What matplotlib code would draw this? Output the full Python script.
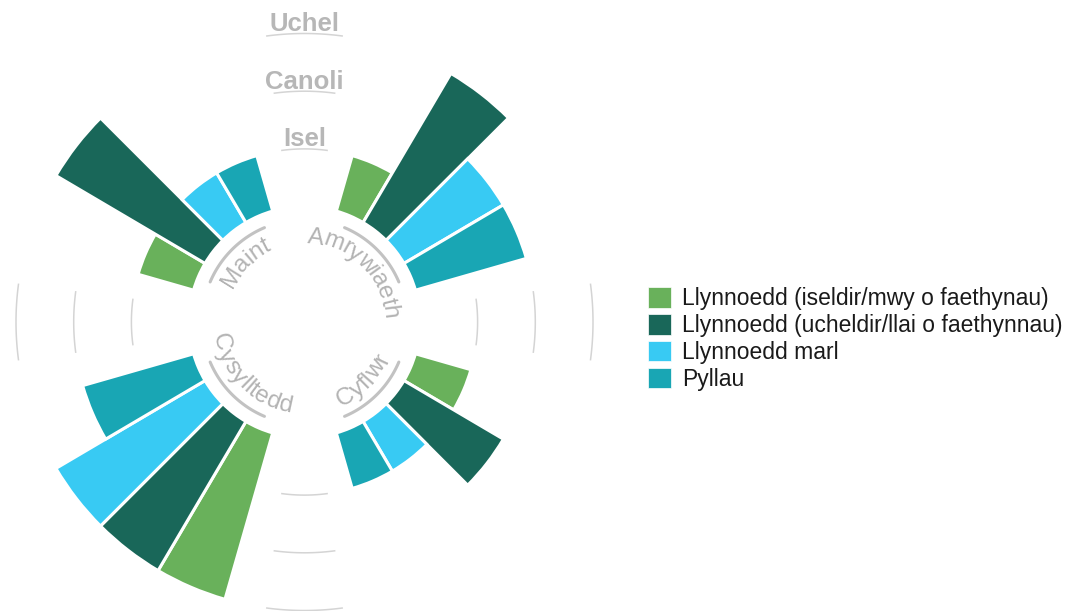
import matplotlib
matplotlib.use('Agg')
import matplotlib.pyplot as plt
from matplotlib.patches import Patch
from matplotlib.font_manager import FontProperties
import numpy as np

plt.rcParams['font.family'] = ['Liberation Sans', 'DejaVu Sans']

# data: one value per group, levels 1=Isel 2=Canoli 3=Uchel
groups = ['Amrywiaeth', 'Cyflwr', 'Cysylltedd', 'Maint']
group_angles = [45, 135, 225, 315]
iseldir = [1, 1, 3, 1]
ucheldir = [3, 2, 3, 3]
marl = [2, 1, 3, 1]
pyllau = [2, 1, 2, 1]
series_names = ['Llynnoedd (iseldir/mwy o faethynau)',
                'Llynnoedd (ucheldir/llai o faethynnau)',
                'Llynnoedd marl',
                'Pyllau']
series_colors = ['#69b15b', '#196759', '#38caf3', '#19a6b4']
level_values = [1, 2, 3]
level_names = ['Isel', 'Canoli', 'Uchel']

W, H = 1068, 611
STEP = 57.7       # pixels per level
HOLE = 2.0        # empty centre, in level units
RMAX = 5.5
cx, cy = 304.5, 322.0
R_px = RMAX * STEP

fig = plt.figure(figsize=(W / 100, H / 100), dpi=100)
ax = fig.add_axes([(cx - R_px) / W, (H - cy - R_px) / H, 2 * R_px / W, 2 * R_px / H],
                  projection='polar')
ax.set_theta_zero_location('N')
ax.set_theta_direction(-1)
ax.set_ylim(0, RMAX)
ax.grid(False)
ax.set_xticks([])
ax.set_yticks([])
ax.spines['polar'].set_visible(False)
ax.set_facecolor('none')

bar_w = 14.5
all_series = [iseldir, ucheldir, marl, pyllau]
for k, (vals, col) in enumerate(zip(all_series, series_colors)):
    th = [np.radians(a + (k - 1.5) * bar_w) for a in group_angles]
    ax.bar(th, vals, width=np.radians(bar_w), bottom=HOLE, color=col,
           edgecolor='white', linewidth=2.2, align='center', zorder=3)

# small grid arcs in the gaps between groups
for lv in level_values:
    for a in [0, 90, 180, 270]:
        t = np.radians(np.linspace(a - 7.5, a + 7.5, 30))
        ax.plot(t, np.full_like(t, lv + HOLE), color='#d4d4d4', lw=1.1, zorder=1)

for lv, name in zip(level_values, level_names):
    ax.text(0, lv + HOLE + 2.5 / STEP, name, ha='center', va='baseline',
            fontsize=18.5, fontweight='bold', color='#b7b7b7')


def curved_label(text, theta_c, r_px, top, fontsize=17.5, color='#b3b3b3'):
    renderer = fig.canvas.get_renderer()
    prop = FontProperties(family='Liberation Sans', size=fontsize)
    widths = [renderer.get_text_width_height_descent(text[:i + 1], prop, ismath=False)[0]
              for i in range(len(text))]
    total = widths[-1]
    prev = 0
    for i, ch in enumerate(text):
        mid = (prev + widths[i]) / 2
        prev = widths[i]
        off = np.degrees((mid - total / 2) / r_px)
        if top:
            th = theta_c + off
            rot = -th
        else:
            th = theta_c - off
            rot = 180 - th
        ax.text(np.radians(th), r_px / STEP, ch, rotation=rot, rotation_mode='anchor',
                ha='center', va='center', fontproperties=prop, color=color, zorder=4)


for name, a in zip(groups, group_angles):
    is_top = a < 90 or a > 270
    curved_label(name, a, 85 if is_top else 86, is_top)
    t = np.radians(np.linspace(a - 22, a + 22, 60))
    ax.plot(t, np.full_like(t, 102.5 / STEP), color='#c2c2c2', lw=2.2,
            solid_capstyle='round', zorder=2)

handles = [Patch(facecolor=c, edgecolor='white', linewidth=0.5) for c in series_colors]
fig.legend(handles, series_names, loc='center left', bbox_to_anchor=(648 / W, 1 - 339 / H),
           frameon=False, fontsize=16.5, handlelength=1.0, handleheight=1.0,
           handletextpad=0.5, labelspacing=0.16, borderpad=0, borderaxespad=0,
           labelcolor='#1a1a1a')

fig.savefig('out.png', dpi=100, facecolor='white')
